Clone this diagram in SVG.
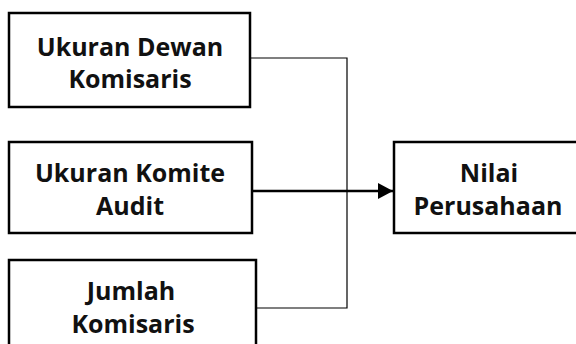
<svg xmlns="http://www.w3.org/2000/svg" width="576" height="344" viewBox="0 0 576 344">
<style>
.box{fill:#fff;stroke:#000;stroke-width:2.5}
.t{font-family:"Open Sans","Liberation Sans",sans-serif;font-weight:bold;font-size:25px;fill:#111;text-anchor:middle}
.thin{fill:none;stroke:#000;stroke-width:1.2}
.arr{fill:none;stroke:#000;stroke-width:2.5}
</style>
<defs>
<marker id="ah" markerUnits="userSpaceOnUse" markerWidth="16" markerHeight="18" refX="15" refY="8" orient="auto">
<path d="M0,0 L15,8 L0,16 Z" fill="#000"/>
</marker>
</defs>
<rect width="576" height="344" fill="#fff"/>
<g id="connectors">
<path class="thin" d="M250,58 H347 V308 H256"/>
<path class="arr" d="M252,191 H393" marker-end="url(#ah)"/>
</g>
<g id="node-dewan">
<rect class="box" x="9" y="13" width="241" height="94"/>
<text class="t" x="130" y="56">Ukuran Dewan</text>
<text class="t" x="130" y="88">Komisaris</text>
</g>
<g id="node-komite">
<rect class="box" x="9" y="142" width="243" height="91"/>
<text class="t" x="130" y="182">Ukuran Komite</text>
<text class="t" x="130" y="215">Audit</text>
</g>
<g id="node-jumlah">
<rect class="box" x="9" y="260" width="247" height="100"/>
<text class="t" x="131" y="300">Jumlah</text>
<text class="t" x="133" y="333">Komisaris</text>
</g>
<g id="node-nilai">
<rect class="box" x="394" y="142" width="192" height="91"/>
<text class="t" x="489" y="182">Nilai</text>
<text class="t" x="488" y="215">Perusahaan</text>
</g>
</svg>
